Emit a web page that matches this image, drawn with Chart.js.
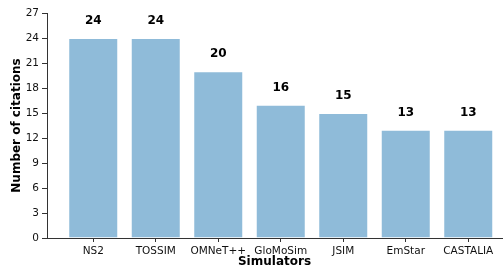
<!DOCTYPE html>
<html>
<head>
<meta charset="utf-8">
<script src="https://cdn.jsdelivr.net/npm/chart.js@4"></script>
<style>
  html, body { margin: 0; padding: 0; background: #fff; }
  #wrap { width: 503px; height: 269px; }
</style>
</head>
<body>
<div id="wrap"><canvas id="chart"></canvas></div>
<script>
const simulators = ['NS2', 'TOSSIM', 'OMNeT++', 'GloMoSim', 'JSIM', 'EmStar', 'CASTALIA'];
const citations = [24, 24, 20, 16, 15, 13, 13];
const yTicks = [0, 3, 6, 9, 12, 15, 18, 21, 24, 27];

const FONT = "'DejaVu Sans', sans-serif";

// value labels above each bar
const barLabels = {
    id: 'barLabels',
    afterDatasetsDraw(chart) {
        const ctx = chart.ctx;
        const meta = chart.getDatasetMeta(0);
        ctx.save();
        ctx.font = 'bold 12px ' + FONT;
        ctx.fillStyle = '#000';
        ctx.textAlign = 'center';
        ctx.textBaseline = 'middle';
        meta.data.forEach(function(bar, i) {
            ctx.fillText(String(citations[i]), bar.x, bar.y - 17);
        });
        ctx.restore();
    }
};

new Chart(document.getElementById('chart').getContext('2d'), {
    type: 'bar',
    data: {
        datasets: [{
            label: 'Number of citations',
            data: citations.map((v, i) => ({ x: i, y: v })),
            backgroundColor: '#8fbbd9',
            borderColor: 'rgba(255,255,255,0.45)',
            borderWidth: 1,
            barPercentage: 0.8,
            categoryPercentage: 1.0
        }]
    },
    options: {
        responsive: true,
        maintainAspectRatio: false,
        animation: false,
        layout: { padding: { top: 13, right: 1, left: 10, bottom: 0 } },
        plugins: {
            legend: { display: false },
            tooltip: { enabled: false }
        },
        scales: {
            x: {
                type: 'linear',
                offset: false,
                min: -0.74,
                max: 6.54,
                afterBuildTicks(scale) { scale.ticks = simulators.map((s, i) => ({ value: i })); },
                grid: { drawOnChartArea: false, offset: false, color: '#333', tickLength: 4 },
                border: { color: '#333' },
                ticks: {
                    color: '#111', font: { family: FONT, size: 10.5 }, padding: 3, maxRotation: 0, autoSkip: false,
                    callback: (v) => simulators[v]
                },
                title: { display: true, text: 'Simulators', color: '#000', font: { family: FONT, size: 12, weight: 'bold' }, padding: { top: 1, bottom: 0 } },
                afterFit(scale) { scale.height = 31; }
            },
            y: {
                min: 0,
                max: 27,
                afterBuildTicks(scale) { scale.ticks = yTicks.map(v => ({ value: v })); },
                grid: { drawOnChartArea: false, color: '#333', tickLength: 5 },
                border: { color: '#333' },
                ticks: { color: '#111', font: { family: FONT, size: 10.5 }, padding: 3 },
                title: { display: true, text: 'Number of citations', color: '#000', font: { family: FONT, size: 12, weight: 'bold' }, padding: { top: 0, bottom: 4 } },
                afterFit(scale) { scale.width = 37; }
            }
        }
    },
    plugins: [barLabels]
});
</script>
</body>
</html>
